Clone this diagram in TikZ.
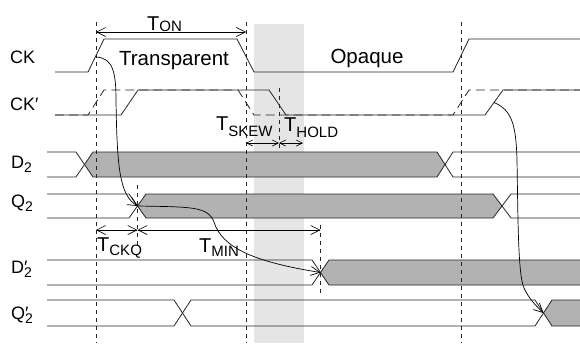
\documentclass[tikz,border=0pt]{standalone}
\usepackage{fontspec}
\setmainfont{Liberation Sans}
\usetikzlibrary{arrows.meta}

\newcommand{\lblfont}{\fontsize{20}{22}\selectfont}
\newcommand{\sidefont}{\fontsize{18}{20}\selectfont}
\newcommand{\subfont}{\fontsize{15}{15}\selectfont}
\newcommand{\sgn}[2]{#1\raisebox{-4pt}{\fontsize{14}{14}\selectfont #2}}
\newcommand{\sgnp}[2]{#1\rlap{′}\raisebox{-4pt}{\fontsize{14}{14}\selectfont #2}}
\newcommand{\tdelay}[2]{T\raisebox{-#2}{\subfont #1}}

\begin{document}
\begin{tikzpicture}[x=1pt, y=-1pt, >={Straight Barb[length=9pt,width=9pt]},
        sig/.style={draw=black!85, line width=0.8pt},
        bus/.style={sig, fill=gray!60},
        marker/.style={black!85, line width=0.7pt, dash pattern=on 4pt off 4pt},
        ghost/.style={sig, dash pattern=on 9pt off 5pt},
        dim/.style={<->, line width=0.6pt},
        smalldim/.style={{Straight Barb[length=6pt,width=6pt]}-{Straight Barb[length=6pt,width=6pt]}, line width=0.6pt},
        path/.style={->, line width=0.7pt},
        lbl/.style={inner sep=0pt, font=\lblfont},
        side/.style={inner sep=0pt, font=\sidefont, anchor=base west}]
        \useasboundingbox (0,0) rectangle (580,343);

        % Hold window
        \fill[gray!20] (254,24) rectangle (304,343);

        % Buses
        \draw[bus] (84.5,164.5) -- (93,152) -- (437,152) -- (445,164.5) -- (437,177) -- (93,177) -- cycle;
        \draw[sig] (47,152) -- (76,152) -- (84.5,164.5) -- (76,177) -- (47,177);
        \draw[sig] (585,152) -- (453,152) -- (445,164.5) -- (453,177) -- (585,177);

        \draw[bus] (137.5,206) -- (146,194) -- (493,194) -- (502,206) -- (493,218) -- (146,218) -- cycle;
        \draw[sig] (47,194) -- (129,194) -- (137.5,206) -- (129,218) -- (47,218);
        \draw[sig] (585,194) -- (511,194) -- (502,206) -- (511,218) -- (585,218);

        \draw[bus] (320.5,272.5) -- (329,260) -- (585,260) -- (585,285) -- (329,285) -- cycle;
        \draw[sig] (47,260) -- (312,260) -- (320.5,272.5) -- (312,285) -- (47,285);

        \draw[sig] (47,300) -- (174,300) -- (182.5,313) -- (174,326) -- (47,326);
        \draw[sig] (182.5,313) -- (191,300) -- (535,300) -- (543.5,313) -- (535,326) -- (191,326) -- cycle;
        \draw[bus] (543.5,313) -- (552,300) -- (585,300) -- (585,326) -- (552,326) -- cycle;

        % Clocks
        \draw[sig] (55,72) -- (88,72) -- (104,39) -- (237,39) -- (254,72) -- (453,72) -- (469,39) -- (585,39);
        \draw[ghost] (55,115) -- (88,115) -- (104,90) -- (238,90) -- (254,115) -- (453,115) -- (469,90) -- (585,90);
        \draw[sig] (55,115) -- (121,115) -- (138,90) -- (269,90) -- (286,115) -- (485,115) -- (503,90) -- (585,90);

        % Markers
        \draw[marker] (96,22) -- (96,343);
        \draw[marker] (246,22) -- (246,343);
        \draw[marker] (461,22) -- (461,343);
        \draw[marker] (137.5,185) -- (137.5,245);
        \draw[marker] (279,88) -- (279,150);
        \draw[marker] (320.5,225) -- (320.5,293);

        % Timing
        \coordinate (ckrise) at (96,57);
        \coordinate (q2x) at (137.5,206);
        \coordinate (d2px) at (320.5,272.5);
        \coordinate (ckprise) at (494,102.5);
        \coordinate (q2px) at (543.5,313);

        \draw[dim] (96,32) -- (246,32);
        \draw[smalldim] (246,143) -- (279,143);
        \draw[smalldim] (279,143) -- (303,143);
        \draw[dim] (96,230) -- (137.5,230);
        \draw[dim] (137.5,230) -- (320.5,230);

        \draw[path] (ckrise) .. controls (112,58) and (116,70) .. (116,100)
            .. controls (117,170) and (120,195) .. (q2x);
        \draw[path] (q2x) .. controls (190,207) and (208,206) .. (214,222)
            .. controls (222,248) and (255,262) .. (d2px);
        \draw[path] (ckprise) .. controls (512,110) and (516,125) .. (517,160)
            .. controls (518,220) and (518,275) .. (524,288)
            .. controls (528,297) and (535,305) .. (q2px);

        % Labels
        \node[lbl, anchor=base west] (ton) at (147,30) {\tdelay{ON}{1pt}};
        \node[lbl, anchor=base west] (tskew) at (216,130) {\tdelay{SKEW}{6pt}};
        \node[lbl, anchor=base west] (thold) at (284,131) {\tdelay{HOLD}{6pt}};
        \node[lbl, anchor=base west] (tckq) at (97,251) {\tdelay{CKQ}{4pt}};
        \node[lbl, anchor=base west] (tmin) at (199,252) {\tdelay{MIN}{4pt}};
        \node[lbl, anchor=base, font=\fontsize{20.5}{22}\selectfont] (transp) at (174,65) {Transparent};
        \node[lbl, anchor=base, font=\fontsize{20.5}{22}\selectfont] (opaque) at (367,63) {Opaque};

        \node[side] (lblck) at (10,63) {CK};
        \node[side] (lblckp) at (10,110) {CK′};
        \node[side] (lbldtwo) at (11,168) {\sgn{D}{2}};
        \node[side] (lblqtwo) at (11,207) {\sgn{Q}{2}};
        \node[side] (lbldtwop) at (11,273) {\sgnp{D}{2}};
        \node[side] (lblqtwop) at (11,319) {\sgnp{Q}{2}};
\end{tikzpicture}
\end{document}
